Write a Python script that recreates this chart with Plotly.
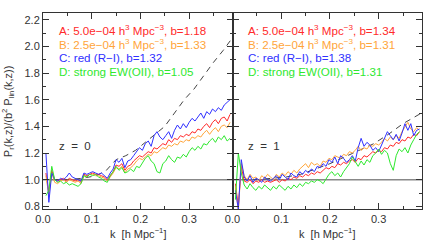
import plotly.graph_objects as go

# k grid (h/Mpc)
k = [round(0.006 * i, 3) for i in range(1, 65)]

# z = 0 panel
z0_blue = [1.20, 0.83, 1.05, 1.00, 0.99, 1.01, 1.00, 1.02, 1.05, 1.02, 1.01, 1.00, 0.99, 1.05, 1.04, 1.05,
           1.06, 1.05, 1.04, 1.05, 1.03, 1.01, 1.05, 1.08, 1.15, 1.13, 1.16, 1.09, 1.14, 1.15, 1.18, 1.21,
           1.24, 1.22, 1.27, 1.29, 1.25, 1.33, 1.36, 1.32, 1.30, 1.33, 1.36, 1.31, 1.37, 1.41, 1.38, 1.42,
           1.39, 1.43, 1.46, 1.44, 1.47, 1.50, 1.46, 1.51, 1.49, 1.53, 1.51, 1.54, 1.52, 1.56, 1.58, 1.60]
z0_red = [1.05, 0.90, 1.07, 1.00, 0.99, 1.00, 1.01, 0.99, 1.01, 1.00, 0.99, 1.00, 0.98, 1.04, 1.03, 1.04,
          1.05, 1.04, 1.04, 1.03, 1.02, 1.00, 1.03, 1.06, 1.11, 1.10, 1.12, 1.07, 1.10, 1.11, 1.14, 1.16,
          1.18, 1.17, 1.19, 1.21, 1.20, 1.24, 1.23, 1.25, 1.27, 1.26, 1.30, 1.28, 1.31, 1.30, 1.33, 1.32,
          1.34, 1.33, 1.36, 1.35, 1.38, 1.37, 1.40, 1.42, 1.39, 1.43, 1.45, 1.42, 1.46, 1.47, 1.44, 1.49]
z0_orange = [1.03, 0.88, 1.05, 0.98, 0.97, 0.99, 1.00, 0.98, 1.00, 0.99, 0.98, 0.99, 0.97, 1.03, 1.02, 1.04,
             1.04, 1.03, 1.03, 1.02, 1.01, 0.99, 1.02, 1.05, 1.09, 1.08, 1.10, 1.05, 1.08, 1.09, 1.11, 1.14,
             1.16, 1.15, 1.17, 1.19, 1.18, 1.21, 1.20, 1.22, 1.24, 1.23, 1.26, 1.25, 1.27, 1.26, 1.29, 1.28,
             1.30, 1.29, 1.32, 1.31, 1.33, 1.32, 1.35, 1.37, 1.34, 1.37, 1.39, 1.36, 1.40, 1.41, 1.39, 1.43]
z0_green = [0.88, 0.92, 1.10, 1.00, 0.98, 0.99, 0.97, 0.98, 0.96, 0.97, 0.96, 0.95, 0.97, 1.03, 1.02, 1.04,
            1.03, 1.04, 1.02, 1.01, 0.99, 0.98, 1.03, 1.06, 1.10, 1.07, 1.09, 1.05, 1.06, 1.08, 1.06, 1.10,
            1.09, 1.13, 1.16, 1.18, 1.14, 1.12, 1.06, 1.05, 1.12, 1.14, 1.18, 1.15, 1.13, 1.17, 1.16, 1.19,
            1.17, 1.21, 1.24, 1.22, 1.25, 1.23, 1.27, 1.26, 1.29, 1.31, 1.28, 1.32, 1.30, 1.33, 1.29, 1.31]
z0_model_k = [0.02, 0.05, 0.08, 0.11, 0.13, 0.15, 0.17, 0.19, 0.21, 0.23, 0.25, 0.27, 0.29, 0.31, 0.33,
              0.35, 0.37, 0.386]
z0_model = [1.00, 1.00, 1.01, 1.03, 1.07, 1.15, 1.18, 1.22, 1.28, 1.34, 1.40, 1.50, 1.60, 1.68, 1.78,
            1.88, 1.97, 2.05]

# z = 1 panel
z1_blue = [0.92, 0.78, 1.15, 1.02, 0.99, 1.03, 0.98, 1.01, 1.00, 0.98, 1.02, 1.00, 0.99, 1.01, 1.03, 1.00,
           1.04, 1.02, 1.00, 1.05, 1.03, 1.02, 1.06, 1.04, 1.07, 1.05, 1.08, 1.06, 1.10, 1.09, 1.12, 1.10,
           1.15, 1.13, 1.17, 1.12, 1.18, 1.16, 1.13, 1.15, 1.18, 1.14, 1.24, 1.31, 1.25, 1.28, 1.26, 1.22,
           1.24, 1.21, 1.26, 1.30, 1.36, 1.33, 1.30, 1.34, 1.29, 1.35, 1.42, 1.37, 1.42, 1.33, 1.37, 1.38]
z1_orange = [0.95, 0.76, 1.12, 1.03, 1.00, 1.04, 1.01, 1.02, 0.99, 1.03, 1.01, 1.04, 1.02, 1.00, 1.04, 1.02,
             1.05, 1.03, 1.06, 1.04, 1.07, 1.05, 1.08, 1.10, 1.12, 1.09, 1.13, 1.11, 1.12, 1.10, 1.14, 1.13,
             1.16, 1.15, 1.18, 1.17, 1.16, 1.19, 1.18, 1.21, 1.20, 1.22, 1.25, 1.22, 1.24, 1.23, 1.26, 1.25,
             1.27, 1.26, 1.28, 1.31, 1.29, 1.32, 1.30, 1.33, 1.31, 1.36, 1.40, 1.43, 1.38, 1.36, 1.39, 1.37]
z1_red = [0.97, 0.80, 1.10, 0.99, 0.98, 1.00, 0.97, 0.99, 0.98, 1.00, 0.98, 0.99, 0.98, 0.99, 1.00, 0.98,
          1.00, 0.99, 1.01, 1.00, 1.02, 1.01, 1.03, 1.02, 1.04, 1.03, 1.05, 1.04, 1.06, 1.05, 1.07, 1.09,
          1.08, 1.10, 1.09, 1.12, 1.11, 1.13, 1.12, 1.14, 1.15, 1.13, 1.16, 1.15, 1.18, 1.17, 1.19, 1.21,
          1.20, 1.22, 1.21, 1.24, 1.23, 1.26, 1.25, 1.28, 1.27, 1.30, 1.29, 1.32, 1.31, 1.34, 1.33, 1.36]
z1_green = [0.85, 1.20, 1.05, 0.96, 0.93, 0.97, 0.94, 0.92, 0.95, 0.93, 0.96, 0.94, 0.92, 0.95, 0.93, 0.96,
            0.94, 0.92, 0.95, 0.93, 0.96, 0.94, 0.97, 0.95, 0.98, 0.97, 0.99, 0.98, 1.00, 0.99, 0.97, 1.01,
            1.04, 1.06, 1.03, 1.05, 1.02, 1.06, 1.09, 1.12, 1.17, 1.13, 1.10, 1.14, 1.11, 1.15, 1.13, 1.18,
            1.20, 1.23, 1.19, 1.22, 1.20, 1.12, 1.07, 1.18, 1.23, 1.21, 1.24, 1.20, 1.26, 1.30, 1.34, 1.36]
z1_model_k = [0.02, 0.05, 0.08, 0.11, 0.14, 0.17, 0.20, 0.23, 0.26, 0.29, 0.32, 0.35, 0.388]
z1_model = [1.00, 1.00, 1.01, 1.02, 1.04, 1.08, 1.12, 1.17, 1.22, 1.27, 1.34, 1.42, 1.50]

labels_z0 = ["A: 5.0e\u221204 h<sup>3</sup> Mpc<sup>\u22123</sup>, b=1.18",
             "B: 2.5e\u221204 h<sup>3</sup> Mpc<sup>\u22123</sup>, b=1.33",
             "C: red (R\u2212I), b=1.32",
             "D: strong EW(OII), b=1.05"]
labels_z1 = ["A: 5.0e\u221204 h<sup>3</sup> Mpc<sup>\u22123</sup>, b=1.34",
             "B: 2.5e\u221204 h<sup>3</sup> Mpc<sup>\u22123</sup>, b=1.31",
             "C: red (R\u2212I), b=1.38",
             "D: strong EW(OII), b=1.31"]
colors = ["#ff2a2a", "#ffa53a", "#3030ff", "#2ee82e"]

FONT = "Liberation Sans, Arial, sans-serif"
AXC = "#333333"

fig = go.Figure()

panels = [
    ("x", "y", [z0_red, z0_orange, z0_blue, z0_green], z0_model_k, z0_model),
    ("x2", "y2", [z1_red, z1_orange, z1_blue, z1_green], z1_model_k, z1_model),
]
for xa, ya, series, mk, mv in panels:
    fig.add_trace(go.Scatter(x=mk, y=mv, xaxis=xa, yaxis=ya, mode="lines",
                             line=dict(color="#444444", width=1, dash="6px,5px"),
                             showlegend=False, hoverinfo="skip"))
    for s, c in zip(series, colors):
        fig.add_trace(go.Scatter(x=k, y=s, xaxis=xa, yaxis=ya, mode="lines",
                                 line=dict(color=c, width=1), showlegend=False,
                                 cliponaxis=True))

xr = [0, 0.389]
yr = [0.78, 2.25]
common_x = dict(range=xr, showline=True, linecolor=AXC, linewidth=1, mirror="ticks",
                ticks="inside", ticklen=6, tickcolor=AXC, dtick=0.1, tick0=0,
                tickformat=".1f", showgrid=False, zeroline=False,
                tickfont=dict(family=FONT, size=11, color=AXC),
                minor=dict(dtick=0.05, ticks="inside", ticklen=3, tickcolor=AXC, showgrid=False))
common_y = dict(range=yr, showline=True, linecolor=AXC, linewidth=1, mirror="ticks",
                ticks="inside", ticklen=6, tickcolor=AXC, dtick=0.2, tick0=0,
                tickformat=".1f", showgrid=False, zeroline=False,
                tickfont=dict(family=FONT, size=11, color=AXC),
                minor=dict(dtick=0.1, ticks="inside", ticklen=3, tickcolor=AXC, showgrid=False))

fig.update_layout(
    width=430, height=246,
    margin=dict(l=43, r=8, t=13, b=37),
    paper_bgcolor="white", plot_bgcolor="white",
    xaxis=dict(domain=[0, 0.5], anchor="y", **common_x),
    yaxis=dict(domain=[0, 1], anchor="x", **common_y),
    xaxis2=dict(domain=[0.5, 1], anchor="y2", **common_x),
    yaxis2=dict(domain=[0, 1], anchor="x2", showticklabels=False, **common_y),
)

for xa, ya in [("x", "y"), ("x2", "y2")]:
    fig.add_shape(type="line", xref=xa + " domain", yref=ya, x0=0, x1=1, y0=1, y1=1,
                  line=dict(color="#888888", width=1.5), layer="below")

NB = "\u00a0"
ann = []
for xa, labels, ztxt in [("x", labels_z0, "z" + NB * 2 + "=" + NB * 2 + "0"),
                         ("x2", labels_z1, "z" + NB * 2 + "=" + NB * 2 + "1")]:
    for i, (t, c) in enumerate(zip(labels, colors)):
        ann.append(dict(text=t, xref=xa + " domain", yref="paper", x=0.072, y=0.913 - i * 0.0705,
                        xanchor="left", yanchor="middle", showarrow=False,
                        font=dict(family=FONT, size=11.6, color=c)))
    ann.append(dict(text=ztxt, xref=xa + " domain", yref="paper", x=0.072, y=0.32,
                    xanchor="left", yanchor="middle", showarrow=False,
                    font=dict(family=FONT, size=11.5, color=AXC)))
    ann.append(dict(text="k" + NB * 2 + "[h Mpc<sup>\u22121</sup>]", xref=xa + " domain", yref="paper",
                    x=0.5, y=-0.12, xanchor="center", yanchor="middle", showarrow=False,
                    font=dict(family=FONT, size=11, color=AXC)))
ann.append(dict(text="P<sub>r</sub>(k,z)/(b<sup>2</sup> P<sub>lin</sub>(k,z))", xref="paper", yref="paper",
                x=-0.092, y=0.5, xanchor="center", yanchor="middle", textangle=-90, showarrow=False,
                font=dict(family=FONT, size=11, color=AXC)))
fig.update_layout(annotations=ann)

fig.write_html("out.html", config={"displayModeBar": False},
               post_script="document.body.style.margin='0px';document.body.style.overflow='hidden';")
